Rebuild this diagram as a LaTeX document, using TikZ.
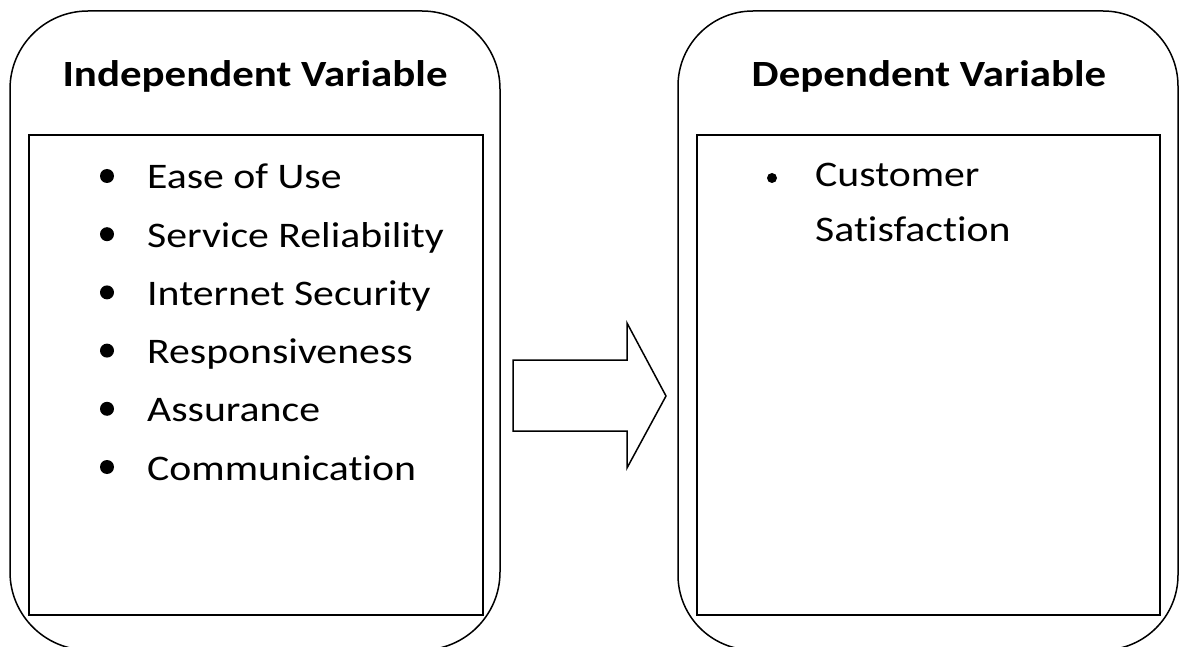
\documentclass[tikz,border=0pt]{standalone}
\usepackage{fontspec}
\setmainfont{Carlito}[FakeStretch=1.16, Ligatures={NoCommon}]
\usetikzlibrary{positioning}

\tikzset{
  frame/.style={line width=1.5pt},
  heading/.style={anchor=base, inner sep=0pt, font=\fontsize{37}{44}\selectfont\bfseries},
  entry/.style={anchor=base west, inner sep=0pt, font=\fontsize{36}{43}\selectfont},
}

\begin{document}
\begin{tikzpicture}[x=1pt,y=-1pt]
    \useasboundingbox (0,0) rectangle (1179,647);
    \def\gap{58.2}  % distance between list lines

    % Draw outer boxes
    \draw[frame, rounded corners=78pt] (10,11) rectangle (500,650);
    \draw[frame, rounded corners=75pt] (678,11) rectangle (1178,650);

    % Draw inner boxes
    \draw[frame] (29,135) rectangle (483,615);
    \draw[frame] (697,135) rectangle (1160,615);

    % Headings
    \node[heading] (indep) at (255,87) {Independent Variable};
    \node[heading] (dep) at (929,87) {Dependent Variable};

    % Independent list
    \foreach \txt [count=\i] in {Ease of Use, Service Reliability, Internet Security,
                                 Responsiveness, Assurance, Communication} {
        \node[entry] (item\i) at (147, {189+\gap*(\i-1)}) {\txt};
        \fill (107, {176+\gap*(\i-1)}) circle(7pt);
    }

    % Dependent list
    \node[entry] (cust) at (815,187) {Customer};
    \node[entry] (sat) at (815,242) {Satisfaction};
    \fill (772,178) circle(5pt);

    % Draw arrow
    \draw[frame, line join=miter] (513,360) -- (627,360) -- (627,323) -- (666,396)
        -- (627,468) -- (627,431) -- (513,431) -- cycle;
\end{tikzpicture}
\end{document}
